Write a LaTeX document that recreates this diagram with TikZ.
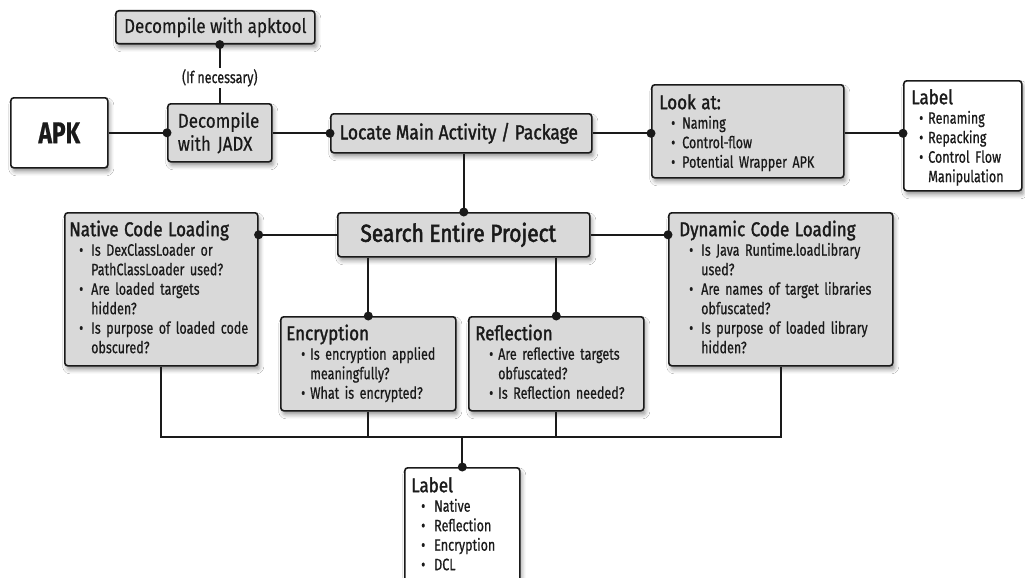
\documentclass[tikz,border=0pt]{standalone}
\usepackage{fontspec}
\setmainfont{Fira Sans}[FakeStretch=0.76, FakeBold=0.6]
\newfontfamily\regf{Fira Sans}[FakeStretch=0.85, FakeBold=0.4]
\newfontfamily\medf{Fira Sans}[FakeStretch=0.85, FakeBold=1.5]
\newfontfamily\semif{Fira Sans}[FakeStretch=0.85, FakeBold=2.2]
\usetikzlibrary{shadows.blur}
\definecolor{boxgray}{RGB}{217,217,217}
\definecolor{ink}{RGB}{26,26,26}
\newlength\bpre \newlength\btot
\newcommand\ind[2]{\setlength\bpre{#1pt}\setlength\btot{#2pt}}
\newcommand\ttl[1]{\rule{0pt}{20pt}{\fontsize{20}{19.5}\medf #1}\par}
\newcommand\bl[1]{\hangindent=\btot\hangafter=1\noindent\hspace*{\bpre}\makebox[\dimexpr\btot-\bpre\relax][l]{•}#1\par}
\newcommand\jdot[1]{\fill[ink] (#1) circle[radius=4.5pt];}
\begin{document}
\begin{tikzpicture}[x=1pt,y=-1pt,
  gbox/.style={draw=ink, line width=1.6pt, rounded corners=3pt, fill=boxgray, inner sep=0pt, anchor=north west, text=ink,
    blur shadow={shadow xshift=2pt, shadow yshift=-4pt, shadow blur radius=4pt, shadow opacity=40}},
  wbox/.style={gbox, fill=white},
  tx/.style={anchor=north west, inner sep=0pt, text width=250pt, align=left, text=ink,
    font=\fontsize{16.5}{19.5}\selectfont,
    execute at begin node={\setlength\parindent{0pt}\setlength\parskip{0pt}}},
  conn/.style={draw=ink, line width=1.8pt},
]
\fill[white] (0,0) rectangle (1025,578);
\useasboundingbox (0,0) rectangle (1025,578);

% boxes
\node[gbox, minimum width=199, minimum height=33, font=\fontsize{20}{23}\regf] (apkt) at (115,10) {Decompile with apktool};
\node[wbox, minimum width=97, minimum height=70, font=\fontsize{30}{32}\selectfont\bfseries] (apk) at (10,97) {APK};
\node[gbox, minimum width=104, minimum height=58, text width=84pt, inner xsep=10pt, align=left, font=\fontsize{20}{23}\regf] (jadx) at (167,103) {Decompile\\with JADX};
\node[gbox, minimum width=261, minimum height=39, font=\fontsize{20.5}{23}\medf] (loc) at (330,113) {Locate Main Activity / Package\kern5pt};
\node[gbox, minimum width=192, minimum height=93] (look) at (651,84) {};
\node[wbox, minimum width=118, minimum height=110] (lab1) at (903,80) {};
\node[gbox, minimum width=252, minimum height=44, font=\fontsize{24.5}{26}\semif] (srch) at (337,212) {Search Entire Project\kern11pt};
\node[gbox, minimum width=193, minimum height=153] (nat) at (64,212) {};
\node[gbox, minimum width=175, minimum height=94] (enc) at (280,316) {};
\node[gbox, minimum width=175, minimum height=94] (ref) at (468,316) {};
\node[gbox, minimum width=224, minimum height=153] (dyn) at (668,212) {};
\node[wbox, minimum width=115, minimum height=125] (lab2) at (404,467) {};

% box texts
\node[tx] (tlook) at (659,89) {\ind{12}{23}\ttl{Look at:}\bl{Naming}\bl{Control-flow}\bl{Potential Wrapper APK}};
\node[tx] (tlab1) at (911,84) {\ind{8}{17}\ttl{Label}\bl{Renaming}\bl{Repacking}\bl{Control Flow\newline Manipulation}};
\node[tx] (tnat) at (69,216) {\ind{10}{22}\ttl{Native Code Loading}\bl{Is DexClassLoader or\newline PathClassLoader used?}\bl{Are loaded targets\newline hidden?}\bl{Is purpose of loaded code\newline obscured?}};
\node[tx] (tdyn) at (679,216) {\ind{10}{22}\ttl{Dynamic Code Loading}\bl{Is Java Runtime.loadLibrary\newline used?}\bl{Are names of target libraries\newline obfuscated?}\bl{Is purpose of loaded library\newline hidden?}};
\node[tx] (tenc) at (286,320) {\ind{15}{24}\ttl{Encryption}\bl{Is encryption applied\newline meaningfully?}\bl{What is encrypted?}};
\node[tx] (tref) at (475,320) {\ind{14}{23}\ttl{Reflection}\bl{Are reflective targets\newline obfuscated?}\bl{Is Reflection needed?}};
\node[tx] (tlab2) at (411,472) {\ind{10}{23}\ttl{Label}\bl{Native}\bl{Reflection}\bl{Encryption}\bl{DCL}};

% connectors
\draw[conn] (apk.east) -- (jadx.west);
\draw[conn] (jadx.east) -- (jadx.east -| loc.west);
\draw[conn] (jadx.north) -- node[fill=white, inner sep=1.5pt, pos=0.43, text=ink, font=\fontsize{16.5}{18}\selectfont] (ifn) {(If necessary)} (jadx.north |- apkt.south);
\draw[conn] (loc.east) -- (loc.east -| look.west);
\draw[conn] (look.east |- loc.east) -- (lab1.west |- loc.east);
\draw[conn] (srch.north |- loc.south) -- (srch.north);
\draw[conn] (srch.west) -- (srch.west -| nat.east);
\draw[conn] (srch.east) -- (srch.east -| dyn.west);
\draw[conn] (enc.north |- srch.south) -- (enc.north);
\draw[conn] (ref.north |- srch.south) -- (ref.north);
\coordinate (bus) at (0,437);
\draw[conn] (nat.south) -- (nat.south |- bus) -- (dyn.south |- bus) -- (dyn.south);
\draw[conn] (enc.south) -- (enc.south |- bus);
\draw[conn] (ref.south) -- (ref.south |- bus);
\draw[conn] (lab2.north |- bus) -- (lab2.north);

% dots
\jdot{jadx.west}
\jdot{jadx.north |- apkt.south}
\jdot{loc.west}
\jdot{loc.east -| look.west}
\jdot{lab1.west |- loc.east}
\jdot{srch.north}
\jdot{srch.west -| nat.east}
\jdot{srch.east -| dyn.west}
\jdot{enc.north}
\jdot{ref.north}
\jdot{lab2.north}
\end{tikzpicture}
\end{document}
